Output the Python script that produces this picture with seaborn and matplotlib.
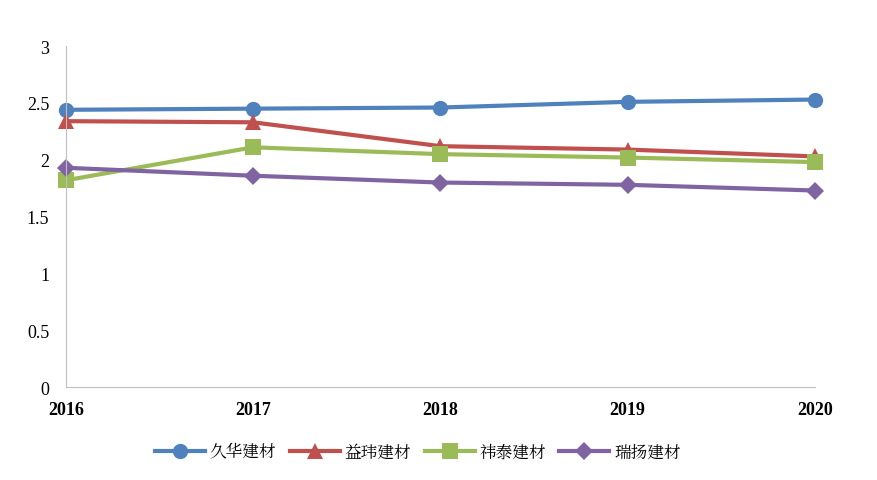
import matplotlib
matplotlib.use("Agg")
import matplotlib.pyplot as plt
from matplotlib import font_manager as fm
import seaborn as sns
import pandas as pd

years = [2016, 2017, 2018, 2019, 2020]
series_names = ["久华建材", "益玮建材", "祎泰建材", "瑞扬建材"]
jiuhua = [2.44, 2.45, 2.46, 2.51, 2.53]
yiwei = [2.34, 2.33, 2.12, 2.09, 2.03]
yitai = [1.82, 2.11, 2.05, 2.02, 1.98]
ruiyang = [1.93, 1.86, 1.80, 1.78, 1.73]
yticks = [0, 0.5, 1, 1.5, 2, 2.5, 3]

colors = ["#4F81BD", "#C0504D", "#9BBB59", "#8064A2"]
markers = ["o", "^", "s", "D"]
sizes = [11, 11, 11, 9]

cjk = None
for f in fm.fontManager.ttflist:
    if "CJK" in f.name and ("SC" in f.name or cjk is None):
        cjk = f.name
cjk_families = [n for n in [cjk, "Noto Sans CJK SC", "Noto Sans CJK JP", "DejaVu Sans"] if n]

rows = []
for name, vals in zip(series_names, [jiuhua, yiwei, yitai, ruiyang]):
    for y, v in zip(years, vals):
        rows.append({"year": y, "value": v, "series": name})
df = pd.DataFrame(rows)

fig = plt.figure(figsize=(8.78, 4.81), dpi=100)
ax = fig.add_axes([0.075, 0.193, 0.853, 0.709])
for name, c, m, s in zip(series_names, colors, markers, sizes):
    d = df[df.series == name]
    sns.lineplot(data=d, x="year", y="value", ax=ax, color=c, marker=m,
                 markersize=s, markeredgewidth=0, linewidth=3, label=name,
                 clip_on=False)

ax.set_xlim(2016, 2020)
ax.set_ylim(0, 3)
ax.set_xticks(years)
ax.set_xticklabels([str(y) for y in years], fontfamily="Liberation Serif",
                   fontsize=13, fontweight="bold")
ax.set_yticks(yticks)
ax.set_yticklabels([f"{t:g}" for t in yticks], fontfamily="Liberation Serif", fontsize=13)
ax.tick_params(axis="both", length=0, pad=10)
ax.tick_params(axis="y", pad=12)
for sp in ["top", "right"]:
    ax.spines[sp].set_visible(False)
ax.spines["left"].set_color("#BFBFBF")
ax.spines["bottom"].set_color("#BFBFBF")
ax.set_xlabel("")
ax.set_ylabel("")
ax.legend(loc="upper center", bbox_to_anchor=(0.47, -0.12), ncol=4, frameon=False,
          prop=fm.FontProperties(family=cjk_families, size=12), handlelength=3,
          columnspacing=0.8, handletextpad=0.3)
fig.savefig("out.png", dpi=100)
